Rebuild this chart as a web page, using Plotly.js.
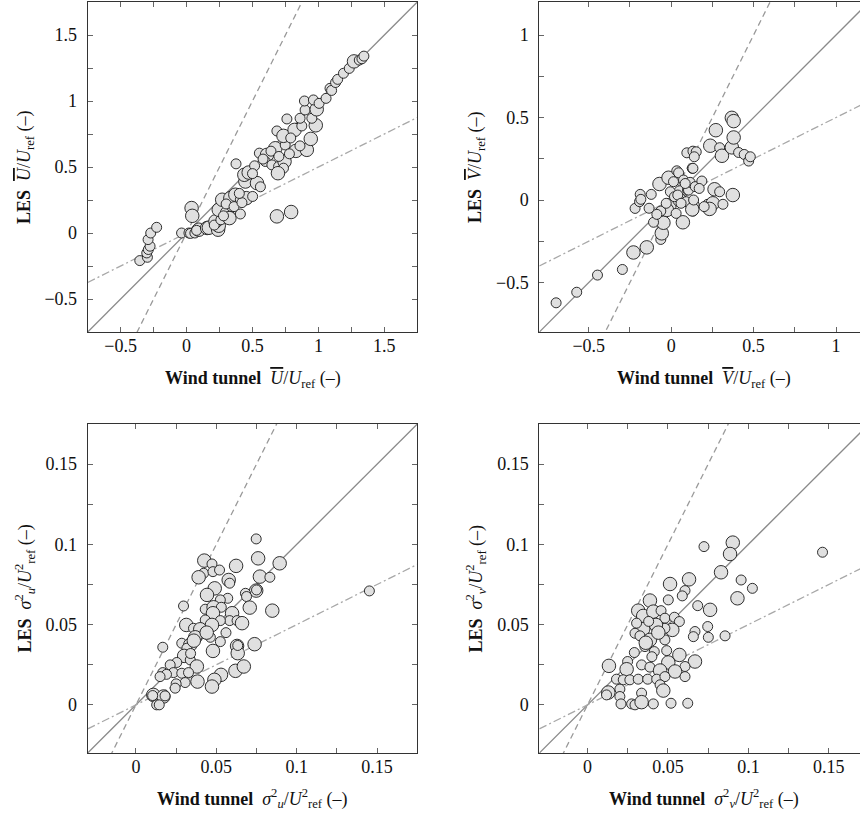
<!DOCTYPE html>
<html>
<head>
<meta charset="utf-8">
<script src="https://cdn.plot.ly/plotly-3.0.1.min.js"></script>
<style>
html,body{margin:0;padding:0;overflow:hidden;background:#fff;}
#chart{width:870px;height:819px;}
</style>
</head>
<body>
<div id="chart"></div>
<script>
// ---------- DATA ----------
// size class: 1 = small marker, 2 = large marker
const uWT  = [-0.355,-0.297,-0.302,-0.29,-0.277,-0.292,-0.272,-0.227,
  -0.038,0.018,0.03,0.063,0.093,0.038,0.043,0.076,0.156,0.169,0.239,0.244,0.219,0.21,0.26,0.244,0.307,0.325,0.28,0.408,0.345,0.27,0.332,0.37,0.408,0.453,0.501,0.3,0.36,0.42,
  0.375,0.446,0.438,0.471,0.516,0.534,0.56,0.552,0.61,0.597,0.647,0.698,0.743,0.735,0.693,0.673,0.748,0.685,0.735,0.761,0.819,0.829,0.912,0.874,0.942,0.98,0.861,0.95,0.899,0.987,0.894,0.962,1.005,1.058,1.088,1.10,1.13,1.146,1.19,1.234,1.27,1.31,1.33,1.345,
  0.685,0.793,0.78,0.64,0.58,0.5,0.4,0.79,0.86,0.7];
const uLES = [-0.209,-0.184,-0.151,-0.125,-0.10,-0.05,0.0,0.043,
  0,0,-0.003,0,0.025,0.189,0.13,0.02,0.038,0.04,0.025,0.055,0.088,0.06,0.10,0.176,0.151,0.113,0.13,0.144,0.214,0.252,0.264,0.29,0.252,0.264,0.277,0.22,0.2,0.23,
  0.524,0.39,0.441,0.458,0.509,0.378,0.35,0.605,0.592,0.542,0.516,0.504,0.542,0.491,0.453,0.642,0.667,0.773,0.736,0.864,0.781,0.622,0.63,0.811,0.713,0.816,0.869,0.869,0.932,0.937,1.0,1.008,0.982,1.02,1.096,1.08,1.14,1.164,1.21,1.247,1.30,1.31,1.32,1.34,
  0.126,0.159,0.6,0.62,0.56,0.45,0.3,0.72,0.66,0.58];
const uCls = [1,1,1,1,1,1,1,1,
  1,1,1,1,2,2,2,1,2,2,2,2,2,1,1,2,2,2,1,1,2,2,2,2,1,2,1,1,1,1,
  1,2,2,2,1,2,1,1,2,1,1,1,2,1,2,2,1,1,2,1,2,2,2,1,2,2,1,1,1,2,1,1,1,1,1,1,1,1,1,1,2,1,1,1,
  2,2,1,1,1,1,1,1,1,1];

const vWT  = [-0.698,-0.573,-0.447,-0.296,-0.229,-0.148,-0.063,-0.057,-0.047,-0.107,0.071,-0.219,-0.192,-0.188,-0.184,-0.134,-0.121,-0.071,-0.016,-0.01,-0.026,-0.063,-0.087,0.03,0.014,0.034,0.045,0.055,0.051,0.075,0.091,0.099,0.105,0.115,0.128,0.132,0.14,0.128,0.136,0.146,0.186,0.132,
  0.095,0.132,0.152,0.14,0.237,0.271,0.294,0.308,0.368,0.379,0.368,0.379,0.409,0.443,0.47,0.48,0.263,0.294,0.374,0.221,0.253,0.314,0.233,-0.005,0.02,0.04,0.06,-0.03,0.085,0.17,0.2];
const vLES = [-0.623,-0.559,-0.455,-0.421,-0.318,-0.287,-0.239,-0.202,-0.138,-0.135,-0.135,-0.051,-0.01,0.034,0.004,-0.05,0.034,0.097,0.135,-0.03,-0.06,-0.067,-0.087,-0.081,0.111,0.177,0.165,0.046,0.0,0.121,-0.01,0.061,0.06,0.107,0.192,-0.067,-0.03,-0.057,0.0,0.081,0.115,0.192,
  0.286,0.296,0.292,0.262,0.329,0.423,0.317,0.268,0.319,0.379,0.498,0.478,0.288,0.276,0.236,0.262,0.065,0.05,0.03,-0.026,-0.02,-0.026,-0.054,0.05,0.02,0.03,-0.02,-0.02,0.1,0.07,-0.04];
const vCls = [1,1,1,1,2,2,1,2,2,1,2,1,1,1,1,1,1,2,2,2,2,1,1,1,1,1,1,2,2,1,1,1,1,1,1,1,1,2,1,1,1,1,
  1,1,1,1,2,2,1,2,2,2,2,2,1,1,1,1,2,1,2,1,2,1,2,1,1,1,1,1,1,1,1];

const suWT  = [0.0748,0.076,0.0894,0.0623,0.0425,0.0473,0.0421,0.039,0.0479,0.052,0.0771,0.0833,0.0577,0.0583,0.0748,0.0681,0.0688,0.049,0.0442,0.0571,0.0525,0.0708,0.0848,0.0296,0.0431,0.0483,0.0531,0.0479,0.0598,0.0583,0.0629,0.066,0.0525,0.0431,0.0473,0.0313,0.0358,0.04,0.0431,0.0369,0.0463,0.0525,0.0285,0.0338,0.0317,0.0167,0.0479,0.0629,0.0738,0.0633,0.03,0.0254,0.0213,0.0338,0.0379,0.0167,0.0233,0.0285,0.0327,0.019,0.015,0.0306,0.025,0.0244,0.0383,0.0529,0.0488,0.0473,0.0619,0.0671,0.0108,0.0171,0.0129,0.0145,0.0104,0.0181,0.1452,0.0633,0.075,0.056,0.044,0.036,0.034];
const suLES = [0.1034,0.0913,0.0882,0.0866,0.0899,0.0878,0.082,0.0795,0.083,0.084,0.0799,0.0795,0.0778,0.0758,0.0712,0.0695,0.0675,0.0726,0.0685,0.0664,0.0654,0.0606,0.0587,0.0616,0.0596,0.0608,0.0608,0.0571,0.0571,0.0525,0.0525,0.0509,0.0525,0.0529,0.0498,0.0498,0.0477,0.0471,0.0446,0.0421,0.0421,0.0394,0.0384,0.0374,0.0353,0.0359,0.0336,0.0367,0.0378,0.0322,0.0305,0.0264,0.0249,0.028,0.0239,0.0201,0.0201,0.0197,0.0201,0.019,0.0176,0.0139,0.0131,0.0104,0.0145,0.0187,0.0156,0.0114,0.0212,0.0239,0.0062,0.0052,0.0,0.0,0.0058,0.0056,0.071,0.037,0.0716,0.045,0.045,0.04,0.032];
const suCls = [1,2,2,2,2,1,1,2,1,1,2,1,2,1,2,1,1,2,2,1,1,2,2,1,1,2,1,2,2,1,1,2,1,1,2,2,1,2,1,2,1,1,1,2,1,1,2,2,2,2,2,1,1,1,2,1,1,1,1,1,1,1,1,1,2,2,2,2,2,2,2,2,1,1,1,1,1,1,1,1,2,2,1];

const svWT  = [0.0724,0.0903,0.0886,0.1461,0.083,0.0955,0.1025,0.0932,0.0631,0.0513,0.0606,0.0589,0.0502,0.0388,0.0685,0.0762,0.0747,0.0668,0.0658,0.0751,0.0855,0.0315,0.0346,0.0409,0.0457,0.0481,0.054,0.0571,0.0527,0.0481,0.0425,0.0346,0.0305,0.0295,0.0326,0.0388,0.0481,0.0357,0.0291,0.0415,0.0492,0.0571,0.0502,0.0668,0.0606,0.0249,0.0133,0.0336,0.0388,0.0243,0.0451,0.0544,0.0606,0.018,0.0222,0.0263,0.0315,0.0374,0.043,0.0481,0.0451,0.0471,0.0201,0.0129,0.0118,0.0201,0.0336,0.0208,0.0274,0.0295,0.0336,0.0409,0.0519,0.0623,0.0362,0.044,0.038,0.04];
const svLES = [0.0986,0.1011,0.094,0.0951,0.0826,0.0778,0.0726,0.0664,0.0782,0.0753,0.0712,0.0679,0.0654,0.065,0.0618,0.0592,0.0488,0.0457,0.0425,0.0421,0.043,0.0587,0.0554,0.0581,0.0587,0.054,0.0546,0.0519,0.0467,0.0477,0.0498,0.0473,0.0509,0.0446,0.043,0.0405,0.0405,0.0363,0.0326,0.0332,0.0338,0.0311,0.0264,0.027,0.0239,0.027,0.0243,0.0249,0.0235,0.0222,0.0214,0.0208,0.0176,0.016,0.0156,0.0156,0.016,0.016,0.016,0.0176,0.0125,0.0089,0.0098,0.0077,0.0062,0.0052,0.0073,0.0006,0.0006,0.0,0.0017,0.0006,0.001,0.001,0.0387,0.045,0.052,0.03];
const svCls = [1,2,2,1,2,1,1,2,2,2,1,1,1,2,1,2,1,1,1,1,1,2,2,2,1,1,1,1,2,1,2,2,1,1,1,2,1,1,1,1,1,2,2,2,1,1,2,1,1,2,2,2,1,1,1,1,1,1,1,1,1,2,1,2,1,1,1,1,1,1,2,1,1,1,2,2,1,1];

// reference lines: y = slope * x
const refSlopes = [1, 2, 0.5];

// axis ranges and ticks (labelled major ticks, unlabelled minor ticks)
const rangeU = [-0.75, 1.75];
const rangeV = [-0.8, 1.2];
const rangeS = [-0.03, 0.175];
const ticksU = [-0.5,0,0.5,1,1.5];
const labelsU = ['\u22120.5','0','0.5','1','1.5'];
const minorU = [-0.25,0.25,0.75,1.25];
const ticksV = [-0.5,0,0.5,1];
const labelsV = ['\u22120.5','0','0.5','1'];
const minorV = [-0.25,0.25,0.75];
const ticksS = [0,0.05,0.1,0.15];
const labelsS = ['0','0.05','0.1','0.15'];
const minorS = [0.025,0.075,0.125];

const OV = s => '<span style="text-decoration:overline">' + s + '</span>';
const xTitles = [
  '<b>Wind tunnel</b>  <i>' + OV('U') + '</i>/<i>U</i><sub>ref</sub> (\u2013)',
  '<b>Wind tunnel</b>  <i>' + OV('V') + '</i>/<i>U</i><sub>ref</sub> (\u2013)',
  '<b>Wind tunnel</b>  <i>σ</i><sup>2</sup><sub><i>u</i></sub>/<i>U</i><sup>2</sup><sub>ref</sub> (\u2013)',
  '<b>Wind tunnel</b>  <i>σ</i><sup>2</sup><sub><i>v</i></sub>/<i>U</i><sup>2</sup><sub>ref</sub> (\u2013)'
];
const yTitles = [
  '<b>LES</b>  <i>' + OV('U') + '</i>/<i>U</i><sub>ref</sub> (\u2013)',
  '<b>LES</b>  <i>' + OV('V') + '</i>/<i>U</i><sub>ref</sub> (\u2013)',
  '<b>LES</b>  <i>σ</i><sup>2</sup><sub><i>u</i></sub>/<i>U</i><sup>2</sup><sub>ref</sub> (\u2013)',
  '<b>LES</b>  <i>σ</i><sup>2</sup><sub><i>v</i></sub>/<i>U</i><sup>2</sup><sub>ref</sub> (\u2013)'
];

// ---------- STYLE ----------
const FONT = 'Liberation Serif, DejaVu Serif, serif';
const W = 870, H = 819;
const sizeMap = {1: 10, 2: 13.5};
const lineStyles = [
  {color:'#8a8a8a', width:1.3, dash:'solid'},
  {color:'#9a9a9a', width:1.3, dash:'6px,4px'},
  {color:'#a8a8a8', width:1.3, dash:'8px,3px,2px,3px'}
];

const panels = [
  {x:uWT, y:uLES, c:uCls, range:rangeU, tv:ticksU, tt:labelsU, mv:minorU},
  {x:vWT, y:vLES, c:vCls, range:rangeV, tv:ticksV, tt:labelsV, mv:minorV},
  {x:suWT, y:suLES, c:suCls, range:rangeS, tv:ticksS, tt:labelsS, mv:minorS},
  {x:svWT, y:svLES, c:svCls, range:rangeS, tv:ticksS, tt:labelsS, mv:minorS}
];

// plot-area pixel boxes [left, right, top, bottom]
const boxes = [
  [87.7, 417.3, 2, 332],
  [539.3, 869, 2, 332],
  [87.7, 417.3, 424, 753],
  [539.3, 869, 424, 753]
];

const traces = [];
const layout = {
  width: W, height: H,
  margin: {l:0, r:0, t:0, b:0},
  paper_bgcolor:'#fff', plot_bgcolor:'#fff',
  showlegend:false,
  font:{family:FONT, size:18, color:'#111'},
  annotations:[]
};

panels.forEach((p, i) => {
  const n = i + 1;
  const xa = 'xaxis' + (n === 1 ? '' : n);
  const ya = 'yaxis' + (n === 1 ? '' : n);
  const xr = 'x' + (n === 1 ? '' : n);
  const yr = 'y' + (n === 1 ? '' : n);
  const b = boxes[i];
  const ax = {
    range: p.range, showgrid:false, zeroline:false,
    showline:true, linecolor:'#333', linewidth:1, mirror:'allticks',
    ticks:'inside', ticklen:5, tickwidth:1, tickcolor:'#666',
    tickmode:'array', tickvals:p.tv, ticktext:p.tt,
    minor:{tickmode:'array', tickvals:p.mv, ticks:'inside', ticklen:5, tickwidth:1, tickcolor:'#666', showgrid:false},
    tickfont:{family:FONT, size:18, color:'#111'},
    fixedrange:true
  };
  layout[xa] = Object.assign({}, ax, {domain:[b[0]/W, b[1]/W], anchor:yr, ticklabelstandoff:-3});
  layout[ya] = Object.assign({}, ax, {domain:[(H-b[3])/H, (H-b[2])/H], anchor:xr, ticklabelstandoff:6});

  // reference lines
  refSlopes.forEach((k, j) => {
    traces.push({
      type:'scatter', mode:'lines', xaxis:xr, yaxis:yr,
      x:[p.range[0], p.range[1]], y:[k*p.range[0], k*p.range[1]],
      line:lineStyles[j], hoverinfo:'skip'
    });
  });
  // data points
  traces.push({
    type:'scatter', mode:'markers', xaxis:xr, yaxis:yr,
    x:p.x, y:p.y,
    marker:{size:p.c.map(c => sizeMap[c]), color:'#e0e0e0', opacity:1,
            line:{color:'#1a1a1a', width:0.9}},
    cliponaxis:true
  });

  // axis titles
  const cx = (b[0] + b[1]) / 2;
  const cy = (b[2] + b[3]) / 2;
  const xTitleY = i < 2 ? 379 : 798;
  const yTitleX = i % 2 === 0 ? 25 : 476;
  layout.annotations.push({
    xref:'paper', yref:'paper', x:(i%2===0 ? cx : 704)/W, y:(H - xTitleY)/H,
    xanchor:'center', yanchor:'middle', showarrow:false,
    text:xTitles[i], font:{family:FONT, size:18, color:'#111'}
  });
  layout.annotations.push({
    xref:'paper', yref:'paper', x:yTitleX/W, y:(H - cy)/H,
    xanchor:'center', yanchor:'middle', showarrow:false, textangle:-90,
    text:yTitles[i], font:{family:FONT, size:18, color:'#111'}
  });
});

Plotly.newPlot('chart', traces, layout, {displayModeBar:false, staticPlot:true});
</script>
</body>
</html>
